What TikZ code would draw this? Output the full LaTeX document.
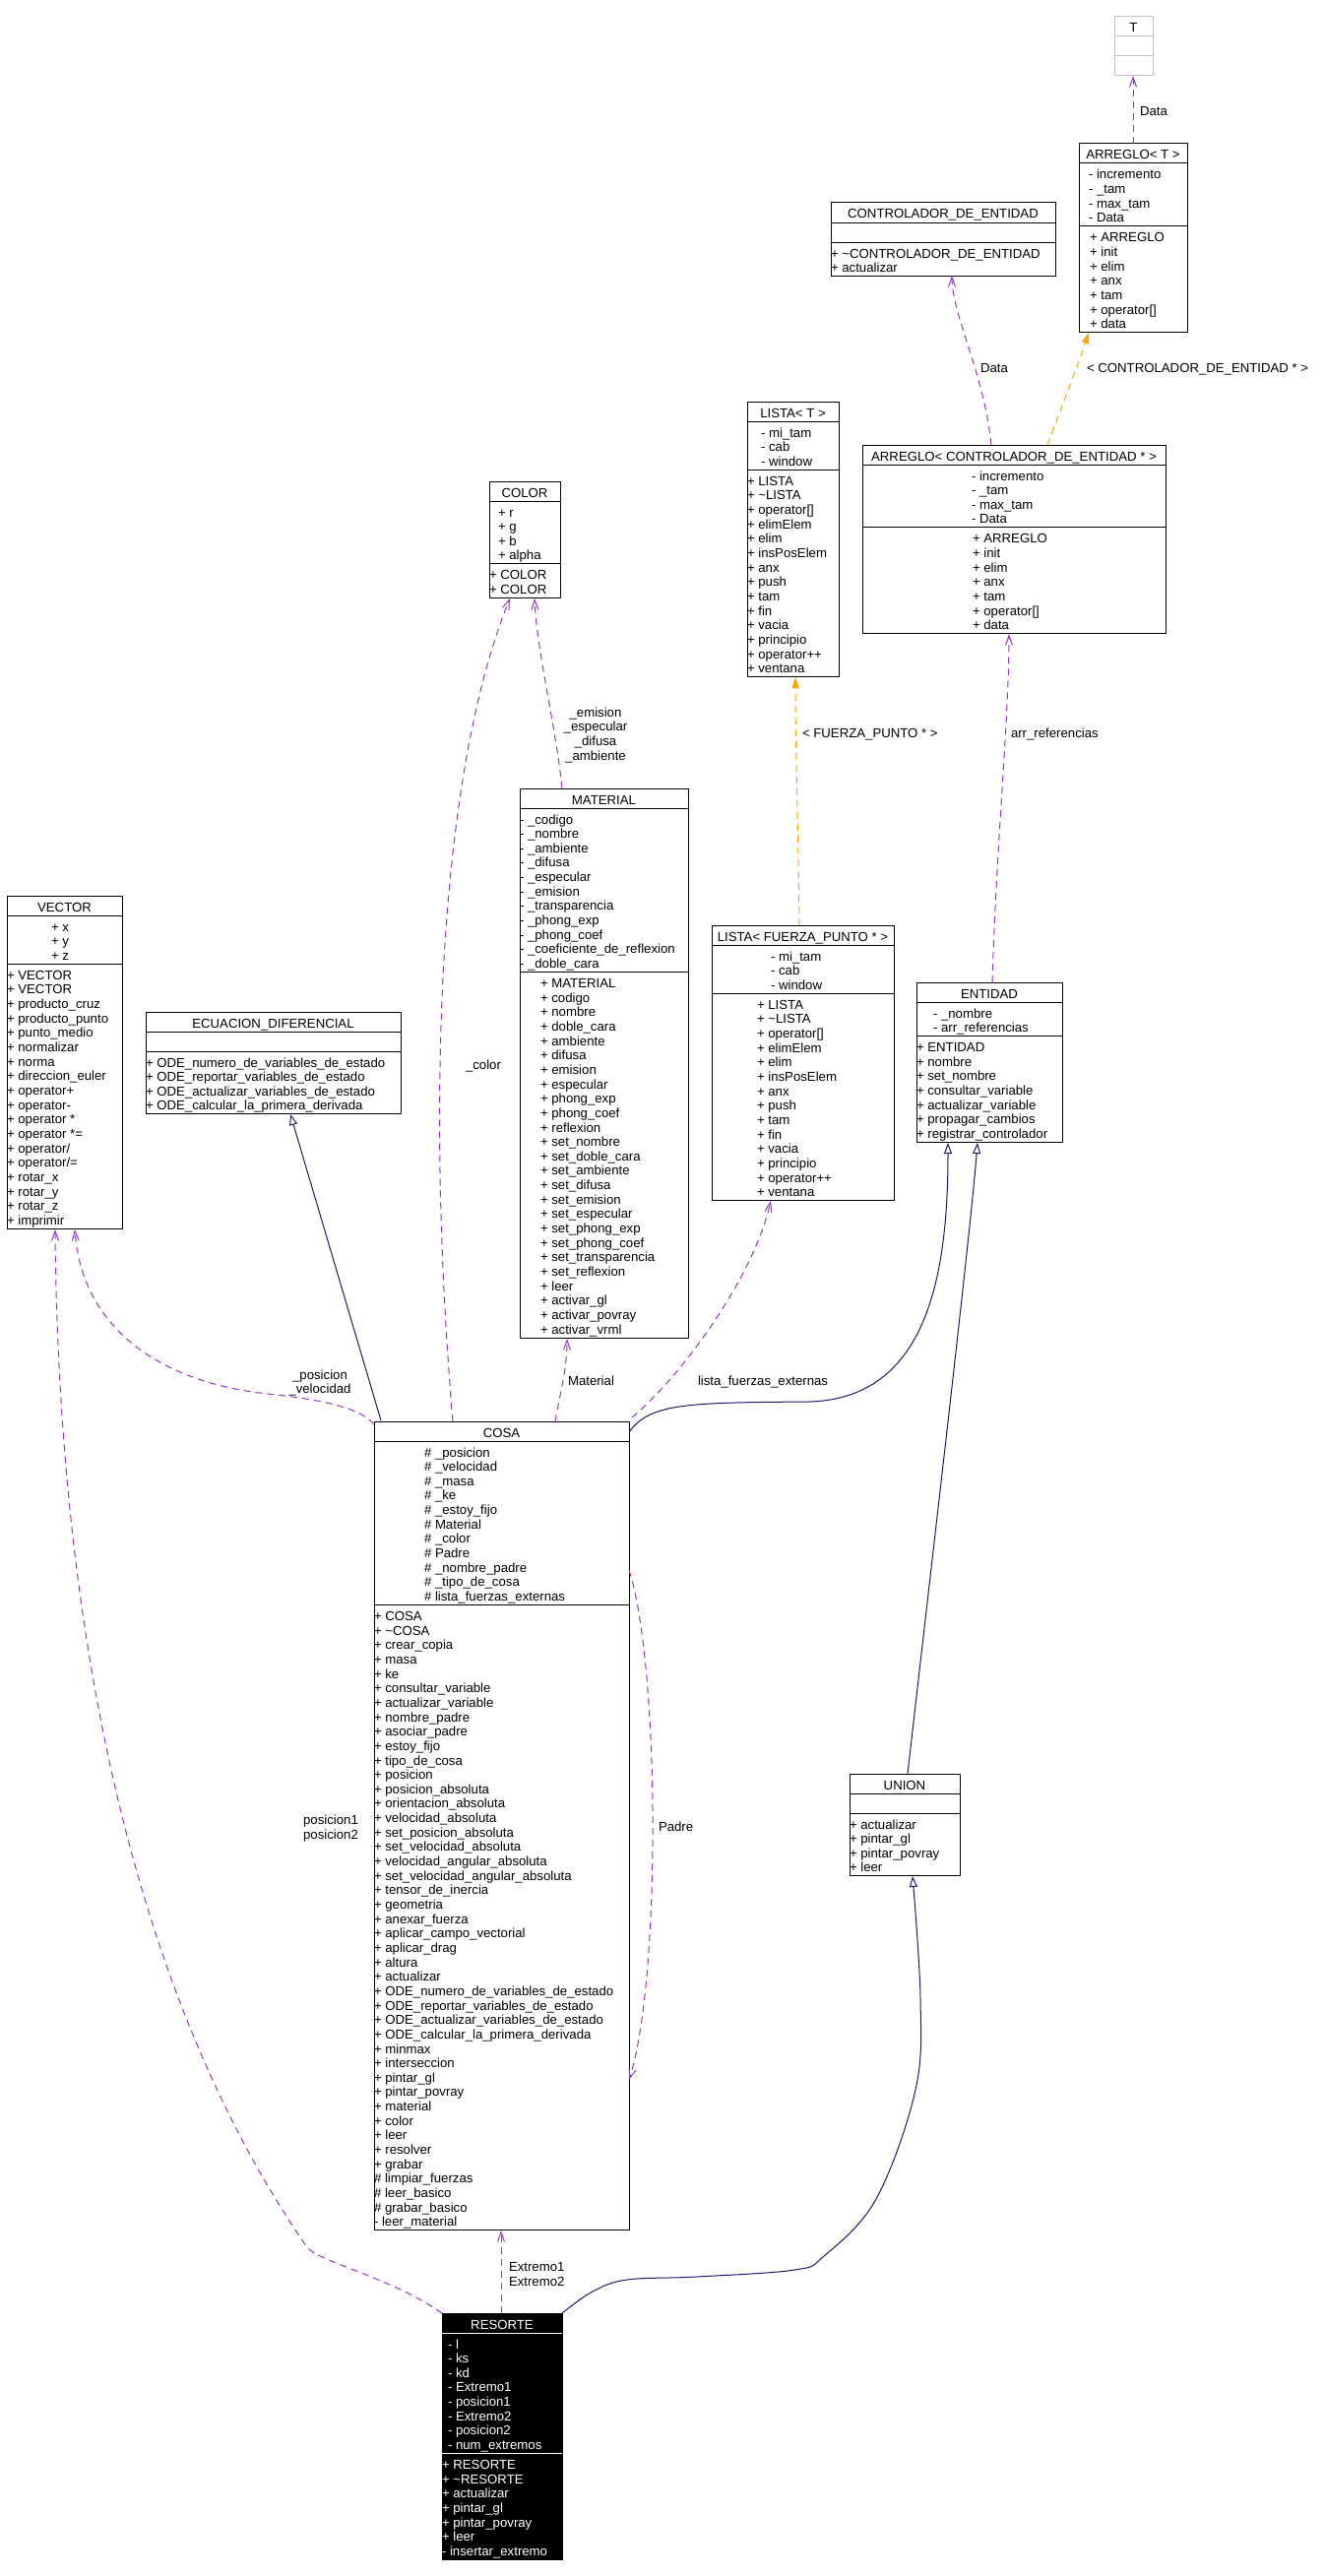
\documentclass[tikz,border=0pt]{standalone}
\usepackage{fontspec}
\setmainfont{Liberation Sans}
\usetikzlibrary{arrows.meta}
\definecolor{usecol}{HTML}{9A32CD}
\definecolor{tplcol}{HTML}{FFA500}
\definecolor{inhcol}{HTML}{191970}
\definecolor{graycol}{HTML}{BFBFBF}
\newcommand\lsk{14.65}
\def\bcol{black}\def\fcol{white}\def\lcol{black}\def\tcol{black}
\newcommand\umlbox[7]{%
  \pgfmathsetmacro\uya{#3+20}%
  \pgfmathsetmacro\uym{\uya+20+max(#6-1,0)*\lsk}%
  \pgfmathsetmacro\uyb{\uym+20+max(#7-1,0)*\lsk}%
  \pgfmathsetmacro\uw{#4-#2}%
  \pgfmathsetmacro\uh{\uyb-#3}%
  \node[boxnode, draw=\bcol, fill=\fcol, minimum width=\uw pt, minimum height=\uh pt] (#1) at (#2,#3) {};
  \draw[color=\lcol, line width=1pt] (#2,\uya) -- (#4,\uya) (#2,\uym) -- (#4,\uym);
  \node[txt, text=\tcol, anchor=base] (#1-title) at ({(#2+#4)/2},{#3+16}) {#5};
}
\newcommand\umllines[4]{%
  \foreach \t [count=\i] in {#4} {%
    \node[txt, text=\tcol, anchor=base west] (#1\i) at (#2,{#3+16+(\i-1)*\lsk}) {\t};
  }%
}
\tikzset{
  txt/.style={font=\fontsize{13.2}{14.65}\selectfont, inner sep=0pt, outer sep=0pt},
  boxnode/.style={rectangle, anchor=north west, inner sep=0pt, outer sep=0pt, line width=1pt},
  useedge/.style={usecol, line width=1pt, dash pattern=on 7pt off 5pt, -{Straight Barb[length=10pt,width=7pt]}},
  tpledge/.style={tplcol, line width=1pt, dash pattern=on 7pt off 5pt, -{Triangle[length=11pt,width=7pt]}},
  inhedge/.style={inhcol, line width=1pt, -{Triangle[open,length=11pt,width=8pt,fill=white]}},
}
\begin{document}
\begin{tikzpicture}[x=1pt,y=-1pt]
\fill[white] (0,0) rectangle (1345,2617);
\useasboundingbox (0,0) rectangle (1345,2617);

% T
\def\bcol{graycol}\def\lcol{graycol}
\umlbox{T}{1132}{17}{1171}{T}{0}{0}
\def\bcol{black}\def\lcol{black}

% ARREGLO< T >
\umlbox{arrT}{1096}{146}{1206}{ARREGLO< T >}{4}{7}
\umllines{arrT-a}{1106}{\uya}{- incremento,- \_tam,- max\_tam,- Data}
\umllines{arrT-m}{1107}{\uym}{+ ARREGLO,+ init,+ elim,+ anx,+ tam,{+ operator[]},+ data}

% CONTROLADOR_DE_ENTIDAD
\umlbox{ctrl}{844}{206}{1072}{CONTROLADOR\_DE\_ENTIDAD}{0}{2}
\umllines{ctrl-m}{844}{\uym}{+ \textasciitilde CONTROLADOR\_DE\_ENTIDAD,+ actualizar}

% LISTA< T >
\umlbox{lisT}{759}{408}{852}{LISTA< T >}{3}{14}
\umllines{lisT-a}{773}{\uya}{- mi\_tam,- cab,- window}
\umllines{lisT-m}{759}{\uym}{+ LISTA,+ \textasciitilde LISTA,{+ operator[]},+ elimElem,+ elim,+ insPosElem,+ anx,+ push,+ tam,+ fin,+ vacia,+ principio,+ operator++,+ ventana}

% ARREGLO< CONTROLADOR_DE_ENTIDAD * >
\umlbox{arrC}{876}{452}{1184}{ARREGLO< CONTROLADOR\_DE\_ENTIDAD * >}{4}{7}
\umllines{arrC-a}{987}{\uya}{- incremento,- \_tam,- max\_tam,- Data}
\umllines{arrC-m}{988}{\uym}{+ ARREGLO,+ init,+ elim,+ anx,+ tam,{+ operator[]},+ data}

% COLOR
\umlbox{color}{497}{489}{569}{COLOR}{4}{2}
\umllines{color-a}{506}{\uya}{+ r,+ g,+ b,+ alpha}
\umllines{color-m}{497}{\uym}{+ COLOR,+ COLOR}

% MATERIAL
\umlbox{mat}{528}{801}{699}{MATERIAL}{11}{25}
\umllines{mat-a}{528}{\uya}{- \_codigo,- \_nombre,- \_ambiente,- \_difusa,- \_especular,- \_emision,- \_transparencia,- \_phong\_exp,- \_phong\_coef,- \_coeficiente\_de\_reflexion,- \_doble\_cara}
\umllines{mat-m}{549}{\uym}{+ MATERIAL,+ codigo,+ nombre,+ doble\_cara,+ ambiente,+ difusa,+ emision,+ especular,+ phong\_exp,+ phong\_coef,+ reflexion,+ set\_nombre,+ set\_doble\_cara,+ set\_ambiente,+ set\_difusa,+ set\_emision,+ set\_especular,+ set\_phong\_exp,+ set\_phong\_coef,+ set\_transparencia,+ set\_reflexion,+ leer,+ activar\_gl,+ activar\_povray,+ activar\_vrml}

% LISTA< FUERZA_PUNTO * >
\umlbox{lisF}{723}{940}{908}{LISTA< FUERZA\_PUNTO * >}{3}{14}
\umllines{lisF-a}{783}{\uya}{- mi\_tam,- cab,- window}
\umllines{lisF-m}{769}{\uym}{+ LISTA,+ \textasciitilde LISTA,{+ operator[]},+ elimElem,+ elim,+ insPosElem,+ anx,+ push,+ tam,+ fin,+ vacia,+ principio,+ operator++,+ ventana}

% ENTIDAD
\umlbox{ent}{931}{998}{1079}{ENTIDAD}{2}{7}
\umllines{ent-a}{948}{\uya}{- \_nombre,- arr\_referencias}
\umllines{ent-m}{931}{\uym}{+ ENTIDAD,+ nombre,+ set\_nombre,+ consultar\_variable,+ actualizar\_variable,+ propagar\_cambios,+ registrar\_controlador}

% VECTOR
\umlbox{vec}{7}{910}{124}{VECTOR}{3}{18}
\umllines{vec-a}{52}{\uya}{+ x,+ y,+ z}
\umllines{vec-m}{7}{\uym}{+ VECTOR,+ VECTOR,+ producto\_cruz,+ producto\_punto,+ punto\_medio,+ normalizar,+ norma,+ direccion\_euler,+ operator+,+ operator-,+ operator *,+ operator *=,+ operator/,+ operator/=,+ rotar\_x,+ rotar\_y,+ rotar\_z,+ imprimir}

% ECUACION_DIFERENCIAL
\umlbox{ecu}{148}{1028}{407}{ECUACION\_DIFERENCIAL}{0}{4}
\umllines{ecu-m}{148}{\uym}{+ ODE\_numero\_de\_variables\_de\_estado,+ ODE\_reportar\_variables\_de\_estado,+ ODE\_actualizar\_variables\_de\_estado,+ ODE\_calcular\_la\_primera\_derivada}

% COSA
\umlbox{cosa}{380}{1444}{639}{COSA}{11}{43}
\umllines{cosa-a}{431}{\uya}{\# \_posicion,\# \_velocidad,\# \_masa,\# \_ke,\# \_estoy\_fijo,\# Material,\# \_color,\# Padre,\# \_nombre\_padre,\# \_tipo\_de\_cosa,\# lista\_fuerzas\_externas}
\umllines{cosa-m}{380}{\uym}{+ COSA,+ \textasciitilde COSA,+ crear\_copia,+ masa,+ ke,+ consultar\_variable,+ actualizar\_variable,+ nombre\_padre,+ asociar\_padre,+ estoy\_fijo,+ tipo\_de\_cosa,+ posicion,+ posicion\_absoluta,+ orientacion\_absoluta,+ velocidad\_absoluta,+ set\_posicion\_absoluta,+ set\_velocidad\_absoluta,+ velocidad\_angular\_absoluta,+ set\_velocidad\_angular\_absoluta,+ tensor\_de\_inercia,+ geometria,+ anexar\_fuerza,+ aplicar\_campo\_vectorial,+ aplicar\_drag,+ altura,+ actualizar,+ ODE\_numero\_de\_variables\_de\_estado,+ ODE\_reportar\_variables\_de\_estado,+ ODE\_actualizar\_variables\_de\_estado,+ ODE\_calcular\_la\_primera\_derivada,+ minmax,+ interseccion,+ pintar\_gl,+ pintar\_povray,+ material,+ color,+ leer,+ resolver,+ grabar,\# limpiar\_fuerzas,\# leer\_basico,\# grabar\_basico,- leer\_material}

% UNION
\umlbox{uni}{863}{1802}{975}{UNION}{0}{4}
\umllines{uni-m}{863}{\uym}{+ actualizar,+ pintar\_gl,+ pintar\_povray,+ leer}

% RESORTE
\def\bcol{black}\def\fcol{black}\def\lcol{white}\def\tcol{white}
\umlbox{res}{449}{2350}{571}{RESORTE}{8}{7}
\umllines{res-a}{455}{\uya}{- l,- ks,- kd,- Extremo1,- posicion1,- Extremo2,- posicion2,- num\_extremos}
\umllines{res-m}{449}{\uym}{+ RESORTE,+ \textasciitilde RESORTE,+ actualizar,+ pintar\_gl,+ pintar\_povray,+ leer,- insertar\_extremo}
\def\bcol{black}\def\fcol{white}\def\lcol{black}\def\tcol{black}

% ---------- connection points ----------
\coordinate (arrT-top) at (1151,146);
\coordinate (T-bot) at (1151,77);
\coordinate (arrC-d) at (1007,452);
\coordinate (ctrl-b) at (967,280);
\coordinate (arrC-t) at (1064,452);
\coordinate (arrT-b) at (1106,338);
\coordinate (ent-t) at (1008,998);
\coordinate (arrC-b) at (1025,644);
\coordinate (lisF-t) at (812,940);
\coordinate (lisT-b) at (808,688);
\coordinate (mat-t) at (571,801);
\coordinate (color-b2) at (543,608);
\coordinate (cosa-c) at (460,1444);
\coordinate (color-b1) at (518,608);
\coordinate (cosa-mt) at (564,1444);
\coordinate (mat-b) at (576,1360);
\coordinate (cosa-l) at (642,1440);
\coordinate (lisF-b) at (783,1220);
\coordinate (cosa-e) at (639,1455);
\coordinate (ent-b1) at (963,1161);
\coordinate (cosa-q) at (387,1443);
\coordinate (ecu-b) at (295,1132);
\coordinate (cosa-v) at (380,1447);
\coordinate (vec-b2) at (76,1249);
\coordinate (cosa-p1) at (639,1595);
\coordinate (cosa-p2) at (639,2113);
\coordinate (res-v) at (449,2350);
\coordinate (vec-b1) at (56,1249);
\coordinate (res-c) at (509,2350);
\coordinate (cosa-b) at (509,2266);
\coordinate (res-u) at (571,2350);
\coordinate (uni-b) at (927,1906);
\coordinate (uni-t) at (922,1802);
\coordinate (ent-b2) at (993,1161);

% ---------- connectors ----------
\draw[useedge] (arrT-top) -- (T-bot);
\node[txt, anchor=base west] (lbl-data1) at (1158,118) {Data};

\draw[useedge] (arrC-d) .. controls (1000,380) and (967,320) .. (ctrl-b);
\node[txt, anchor=base west] (lbl-data2) at (996,378) {Data};

\draw[tpledge] (arrC-t) .. controls (1078,415) and (1097,365) .. (arrT-b);
\node[txt, anchor=base west] (lbl-tplC) at (1104,378) {< CONTROLADOR\_DE\_ENTIDAD * >};

\draw[useedge] (ent-t) .. controls (1012,860) and (1025,730) .. (arrC-b);
\node[txt, anchor=base west] (lbl-arr) at (1027,749) {arr\_referencias};

\draw[tpledge] (lisF-t) .. controls (811,850) and (808,760) .. (lisT-b);
\node[txt, anchor=base west] (lbl-tplF) at (815,749) {< FUERZA\_PUNTO * >};

\draw[useedge] (mat-t) .. controls (565,740) and (545,660) .. (color-b2);
\node[txt, anchor=base] (lbl-em1) at (605,728) {\_emision};
\node[txt, anchor=base] (lbl-em2) at (605,742.6) {\_especular};
\node[txt, anchor=base] (lbl-em3) at (605,757.3) {\_difusa};
\node[txt, anchor=base] (lbl-em4) at (605,772) {\_ambiente};

\draw[useedge] (cosa-c) .. controls (435,1150) and (440,800) .. (color-b1);
\node[txt, anchor=base west] (lbl-color) at (473,1086) {\_color};

\draw[useedge] (cosa-mt) .. controls (570,1410) and (576,1390) .. (mat-b);
\node[txt, anchor=base west] (lbl-mat) at (577,1407) {Material};

\draw[useedge] (cosa-l) .. controls (690,1400) and (765,1300) .. (lisF-b);
\node[txt, anchor=base west] (lbl-lista) at (709,1407) {lista\_fuerzas\_externas};

\draw[inhedge] (cosa-e) .. controls (660,1425) and (700,1425) .. (823,1424) .. controls (940,1420) and (963,1300) .. (ent-b1);

\draw[inhedge] (cosa-q) -- (ecu-b);

\draw[useedge] (cosa-v) .. controls (365,1430) and (330,1422) .. (263,1415) .. controls (150,1400) and (82,1340) .. (vec-b2);
\node[txt, anchor=base] (lbl-pos) at (325,1401) {\_posicion};
\node[txt, anchor=base] (lbl-vel) at (325,1415) {\_velocidad};

\draw[useedge] (cosa-p1) .. controls (670,1690) and (672,2010) .. (cosa-p2);
\node[txt, anchor=base west] (lbl-padre) at (669,1860) {Padre};

\draw[useedge] (res-v) .. controls (400,2315) and (322,2297) .. (312,2283) .. controls (150,2050) and (60,1700) .. (vec-b1);
\node[txt, anchor=base] (lbl-p1) at (336,1853) {posicion1};
\node[txt, anchor=base] (lbl-p2) at (336,1868) {posicion2};

\draw[useedge] (res-c) -- (cosa-b);
\node[txt, anchor=base west] (lbl-e1) at (517,2307) {Extremo1};
\node[txt, anchor=base west] (lbl-e2) at (517,2322) {Extremo2};

\draw[inhedge] plot[smooth, tension=0.6] coordinates {(res-u) (602,2328) (637,2316) (707,2313) (807,2306) (837,2292) (890,2234) (930,2123) (935,2030) (uni-b)};

\draw[inhedge] (uni-t) .. controls (945,1600) and (985,1260) .. (ent-b2);
\end{tikzpicture}
\end{document}
